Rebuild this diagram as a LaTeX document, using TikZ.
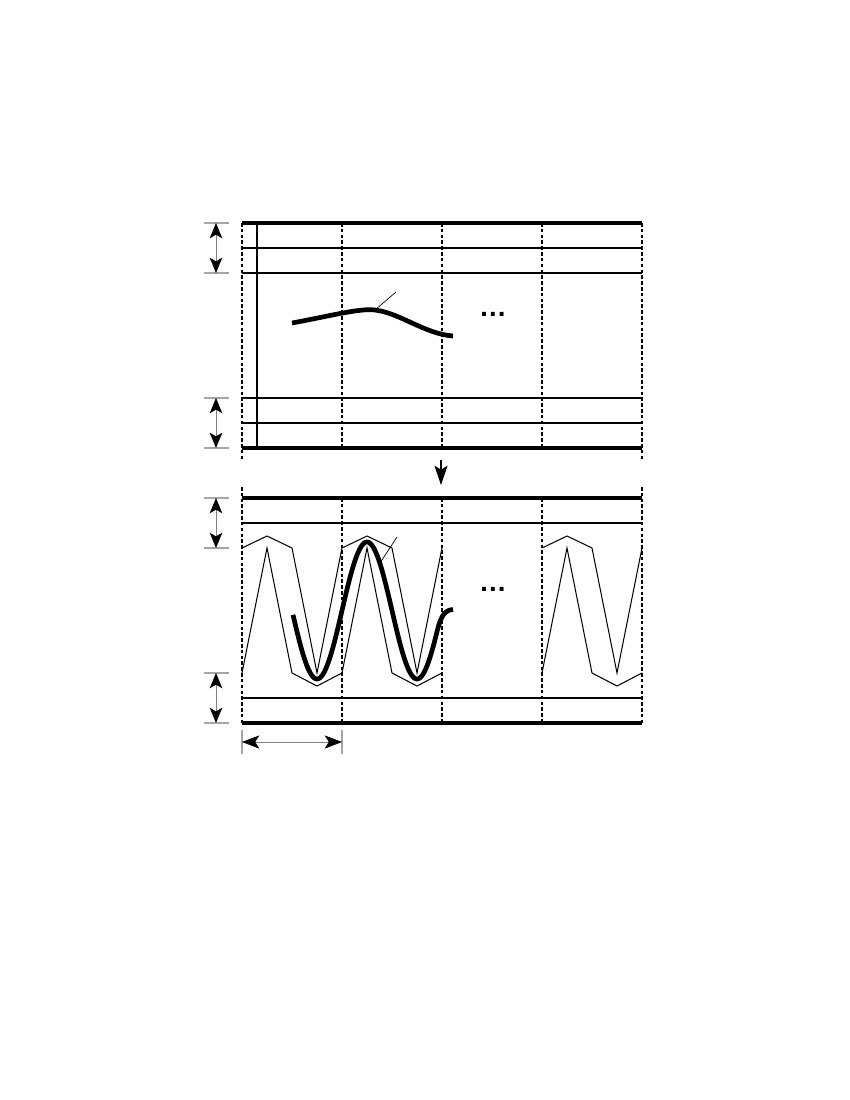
\documentclass[tikz,border=0pt]{standalone}
\usepackage{fontspec}
\setmainfont{Liberation Sans}
\usetikzlibrary{arrows.meta}
\tikzset{
  borderline/.style={line width=2.2pt},
  thinline/.style={line width=0.75pt},
  gridline/.style={line width=0.8pt, dash pattern=on 2.6pt off 1.6pt},
  tickline/.style={line width=0.9pt, draw=gray!70},
  dimtip/.tip={Stealth[length=11pt,width=9pt,inset=2.6pt,line width=0.5pt,color=black,fill=black]},
  hdimtip/.tip={Stealth[length=12.5pt,width=9.5pt,inset=3pt,line width=0.5pt,color=black,fill=black]},
  dimarrow/.style={line width=0.5pt, draw=gray, dimtip-dimtip},
  hdimarrow/.style={line width=0.5pt, draw=gray, hdimtip-hdimtip},
  wave/.style={line width=3.4pt},
  zig/.style={line width=0.75pt, line join=miter},
  leader/.style={line width=0.5pt},
  dots/.style={font=\bfseries\fontsize{20}{20}\selectfont, inner sep=0pt}
}
\begin{document}
\begin{tikzpicture}[x=0.01in, y=-0.01in]
\useasboundingbox (0,0) rectangle (850,1100);

% ---------- top panel ----------
\foreach \y in {248,273,398,423} \draw[thinline] (242,\y) -- (642,\y);
\draw[thinline] (257,223) -- (257,448);
\draw[gridline] (242,223) -- (242,460);
\foreach \x in {342,442,542} \draw[gridline] (\x,223) -- (\x,448);
\draw[gridline] (642,223) -- (642,460);
\draw[borderline] (242,223) -- (642,223);
\draw[borderline] (242,448) -- (642,448);

% dimension marks top
\foreach \y in {223,273,398,448} \draw[tickline] (204,\y) -- (229,\y);
\coordinate (ta1) at (216,223); \coordinate (ta2) at (216,273);
\coordinate (tb1) at (216,398); \coordinate (tb2) at (216,448);
\draw[dimarrow] (ta1) -- (ta2);
\draw[dimarrow] (tb1) -- (tb2);

% curve top
\coordinate (tpeak) at (375,310);
\draw[wave] (292,323) .. controls (330,316) and (360,308) .. (tpeak)
  .. controls (400,313) and (425,334) .. (453,336);
\coordinate (tlab) at (396,292);
\draw[leader] (tpeak) -- (tlab);
\node[dots] (tdots) at (493,314) {\ldots};

% ---------- arrow between ----------
\coordinate (arA) at (441,460);
\coordinate (arB) at (441,485);
\draw[line width=0.8pt, -{Stealth[length=14pt,width=9.5pt,inset=3pt]}] (arA) -- (arB);

% ---------- bottom panel ----------
\foreach \y in {523,698} \draw[thinline] (242,\y) -- (642,\y);
\draw[gridline] (242,487) -- (242,723);
\foreach \x in {342,442,542} \draw[gridline] (\x,498) -- (\x,723);
\draw[gridline] (642,487) -- (642,723);
\draw[borderline] (242,498) -- (642,498);
\draw[borderline] (242,723) -- (642,723);

% zigzags
\draw[zig] (242,673) -- (267,548) -- (292,673) -- (317,686) -- (342,673)
  -- (367,548) -- (392,673) -- (417,686) -- (442,673);
\draw[zig] (242,548) -- (267,536) -- (292,548) -- (317,673) -- (342,548)
  -- (367,536) -- (392,548) -- (417,673) -- (442,548);
\draw[zig] (542,673) -- (567,548) -- (592,673) -- (617,686) -- (642,673);
\draw[zig] (542,548) -- (567,536) -- (592,548) -- (617,673) -- (642,548);

% wave
\draw[wave, line join=round] plot[domain=293:437, samples=120] (\x, {610.5-68.5*cos(3.6*(\x-367))})
  .. controls (441,615.3) and (445,610) .. (453,609.5);
\coordinate (blab) at (397,537);
\coordinate (bpt) at (380,563);
\draw[leader] (bpt) -- (blab);
\node[dots] (bdots) at (493,589) {\ldots};

% dimension marks bottom
\foreach \y in {498,548,673,723} \draw[tickline] (204,\y) -- (229,\y);
\coordinate (ba1) at (216,498); \coordinate (ba2) at (216,548);
\coordinate (bb1) at (216,673); \coordinate (bb2) at (216,723);
\draw[dimarrow] (ba1) -- (ba2);
\draw[dimarrow] (bb1) -- (bb2);

% period dimension
\draw[tickline] (242,730) -- (242,754);
\draw[tickline] (342,730) -- (342,754);
\coordinate (pa) at (242,742); \coordinate (pb) at (342,742);
\draw[hdimarrow] (pa) -- (pb);
\end{tikzpicture}
\end{document}
